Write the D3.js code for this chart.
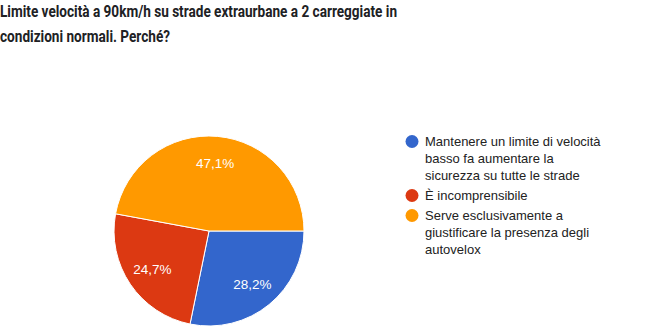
<!DOCTYPE html>
<html>
<head>
<meta charset="utf-8">
<script src="https://cdn.jsdelivr.net/npm/d3@7"></script>
<style>
  html, body { margin: 0; padding: 0; background: #fff; }
  svg { display: block; }
</style>
</head>
<body>
<svg id="chart" width="670" height="328"></svg>
<script>
// Survey answers and shares (%)
const categories = [
  "Mantenere un limite di velocità basso fa aumentare la sicurezza su tutte le strade",
  "È incomprensibile",
  "Serve esclusivamente a giustificare la presenza degli autovelox"
];
const values = [28.2, 24.7, 47.1];
const colors = ["#3366cc", "#dc3912", "#ff9900"];
const legendLines = [
  ["Mantenere un limite di velocità", "basso fa aumentare la", "sicurezza su tutte le strade"],
  ["È incomprensibile"],
  ["Serve esclusivamente a", "giustificare la presenza degli", "autovelox"]
];
const titleLines = [
  "Limite velocità a 90km/h su strade extraurbane a 2 carreggiate in",
  "condizioni normali. Perché?"
];

const svg = d3.select("#chart");

// Title (condensed to its box width)
const titleWidths = [397, 170];
svg.append("g").selectAll("text").data(titleLines).enter().append("text")
  .attr("x", 0).attr("y", (d, i) => 17 + i * 25)
  .attr("textLength", (d, i) => titleWidths[i]).attr("lengthAdjust", "spacingAndGlyphs")
  .style("font-family", "Roboto, sans-serif").style("font-weight", 700)
  .style("font-size", "16.5px").attr("fill", "#202124")
  .text(d => d);

// Pie
const cx = 209, cy = 231, r = 95;
const pie = d3.pie().sort(null).startAngle(Math.PI / 2).endAngle(Math.PI / 2 + 2 * Math.PI);
const arcs = pie(values);
const arc = d3.arc().innerRadius(0).outerRadius(r);
const labelArc = d3.arc().innerRadius(r * 0.72).outerRadius(r * 0.72);

const g = svg.append("g").attr("transform", `translate(${cx},${cy})`);
g.selectAll("path.slice").data(arcs).enter().append("path")
  .attr("class", "slice")
  .attr("d", arc)
  .attr("fill", (d, i) => colors[i])
  .attr("stroke", "#fff").attr("stroke-width", 1);

g.selectAll("text.pct").data(arcs).enter().append("text")
  .attr("class", "pct")
  .attr("transform", d => `translate(${labelArc.centroid(d)})`)
  .attr("text-anchor", "middle").attr("dy", "0.36em")
  .style("font-family", "Arial, 'Liberation Sans', sans-serif")
  .style("font-size", "13.5px").attr("fill", "#fff")
  .text(d => d.data.toFixed(1).replace(".", ",") + "%");

// Legend
const lineH = 17;
const legend = svg.append("g").attr("transform", "translate(412,0)");
let y = 146;
legendLines.forEach((lines, i) => {
  const item = legend.append("g");
  item.append("circle").attr("cx", 0).attr("cy", y - 4.5).attr("r", 6.5).attr("fill", colors[i]);
  lines.forEach((ln, j) => {
    item.append("text")
      .attr("x", 13).attr("y", y + j * lineH)
      .style("font-family", "Arial, 'Liberation Sans', sans-serif")
      .style("font-size", "13px").attr("fill", "#222")
      .text(ln);
  });
  y += lines.length * lineH + 3;
});
</script>
</body>
</html>
